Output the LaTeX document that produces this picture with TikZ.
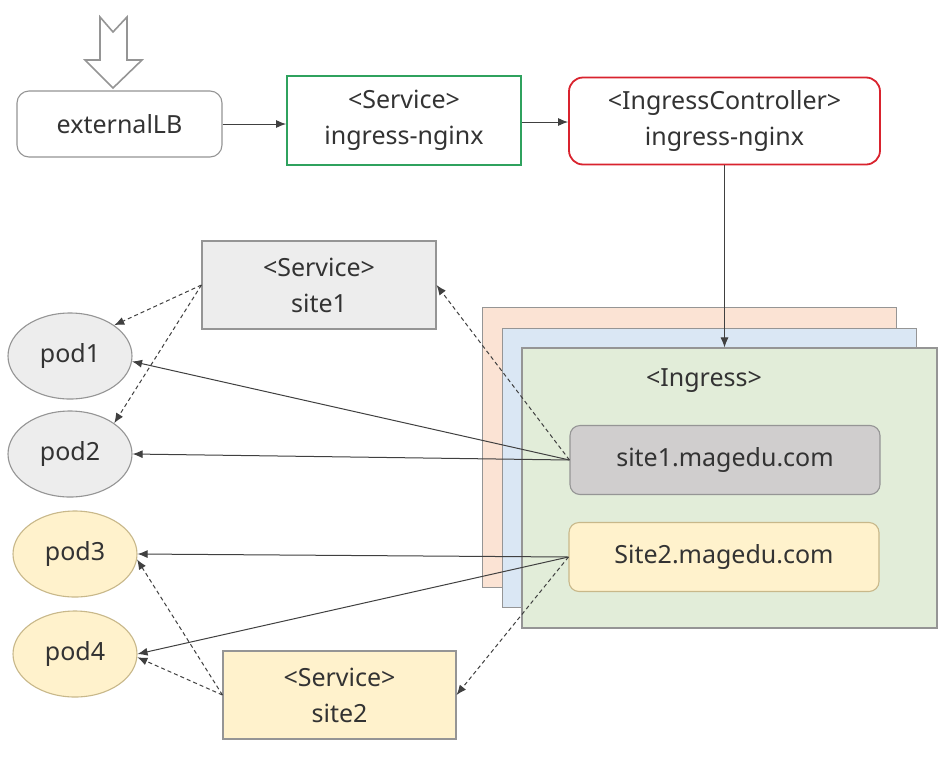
\documentclass[tikz,border=0pt]{standalone}
\usepackage{fontspec}
\setmainfont{Noto Sans}
\usetikzlibrary{shapes.geometric}
\usetikzlibrary{arrows.meta}
\usetikzlibrary{positioning}

\definecolor{txtgray}{HTML}{333333}
\definecolor{linegray}{HTML}{404040}
\definecolor{edgegray}{HTML}{959595}
\definecolor{svcgreen}{HTML}{2FA25E}
\definecolor{ctrlred}{HTML}{D9232E}
\definecolor{podgray}{HTML}{EDEDED}
\definecolor{hostgray}{HTML}{D0CECE}
\definecolor{siteyellow}{HTML}{FFF2CC}
\definecolor{yellowedge}{HTML}{C8B88A}
\definecolor{stackorange}{HTML}{FBE3D4}
\definecolor{stackblue}{HTML}{DAE7F4}
\definecolor{stackgreen}{HTML}{E2EDD9}

\tikzset{
  box/.style={draw, rectangle, line width=1.1pt, text=txtgray, align=center},
  podnode/.style={draw=edgegray, ellipse, line width=1.1pt, minimum width=124pt, minimum height=86pt},
  conn/.style={draw=linegray, line width=1pt, -{Latex[length=10pt,width=8pt]}},
  dconn/.style={conn, dash pattern=on 4pt off 3pt}
}

\begin{document}
\begin{tikzpicture}[x=1pt,y=-1pt,
  every node/.style={font=\fontsize{25}{36}\selectfont, text=txtgray, inner sep=0pt}]
\useasboundingbox[fill=white] (0,0) rectangle (944,758);

% incoming traffic
\draw[edgegray, line width=1.6pt, line join=miter]
  (100,17) -- (113,32) -- (127,17) -- (127,60) -- (142,60) -- (113,88)
  -- (85,60) -- (100,60) -- cycle;

% top row
\node[box, draw=edgegray, rounded corners=12pt, minimum width=205pt, minimum height=66pt]
  (lb) at (119.5,124) {externalLB};
\node[box, draw=svcgreen, line width=1.8pt, minimum width=234pt, minimum height=89pt]
  (svc) at (404,120.5) {<Service>\\ingress-nginx};
\node[box, draw=ctrlred, rounded corners=14pt, line width=1.8pt, minimum width=311pt, minimum height=87pt]
  (ctrl) at (724.5,121) {<IngressController>\\ingress-nginx};

% ingress stack
\filldraw[fill=stackorange, draw=edgegray] (482,307) rectangle (896,587);
\filldraw[fill=stackblue, draw=edgegray] (502,328) rectangle (916,607);
\node[box, fill=stackgreen, draw=edgegray, minimum width=415pt, minimum height=280pt]
  (ing) at (729.5,488) {};
\node (inglabel) at (704,381) {<Ingress>};
\node[box, fill=hostgray, draw=edgegray, rounded corners=10pt, minimum width=310pt, minimum height=69pt]
  (host1) at (725,460) {site1.magedu.com};
\node[box, fill=siteyellow, draw=yellowedge, rounded corners=10pt, minimum width=310pt, minimum height=69pt]
  (host2) at (724,557) {Site2.magedu.com};

% services
\node[box, fill=podgray, draw=edgegray, minimum width=234pt, minimum height=88pt]
  (svc1) at (319,285) {<Service>\\site1};
\node[box, fill=siteyellow, draw=edgegray, minimum width=233pt, minimum height=88pt]
  (svc2) at (339.5,695) {<Service>\\site2};

% pods
\node[podnode, fill=podgray] (pod1) at (70,356) {pod1};
\node[podnode, fill=podgray] (pod2) at (70,454) {pod2};
\node[podnode, fill=siteyellow, draw=yellowedge] (pod3) at (75,554) {pod3};
\node[podnode, fill=siteyellow, draw=yellowedge] (pod4) at (75,654) {pod4};

% connectors
\draw[conn] (lb.east) -- (lb.east -| svc.west);
\draw[conn] (svc.east |- 0,122) -- (ctrl.west |- 0,122);
\draw[conn] (ctrl.south) -- (ctrl.south |- ing.north);

\draw[conn] (host1.west) -- (pod1.-5);
\draw[conn] (host1.west) -- (pod2.east);
\draw[dconn] (host1.west) -- (svc1.east);
\draw[conn] (host2.west) -- (pod3.east);
\draw[conn] (host2.west) -- (pod4.east);
\draw[dconn] (host2.west) -- (svc2.east);

\draw[dconn] (svc1.west) -- (pod1.north east);
\draw[dconn] (svc1.west) -- (pod2.north east);
\draw[dconn] (svc2.west) -- (pod3.-5);
\draw[dconn] (svc2.west) -- (pod4.-3);
\end{tikzpicture}
\end{document}
